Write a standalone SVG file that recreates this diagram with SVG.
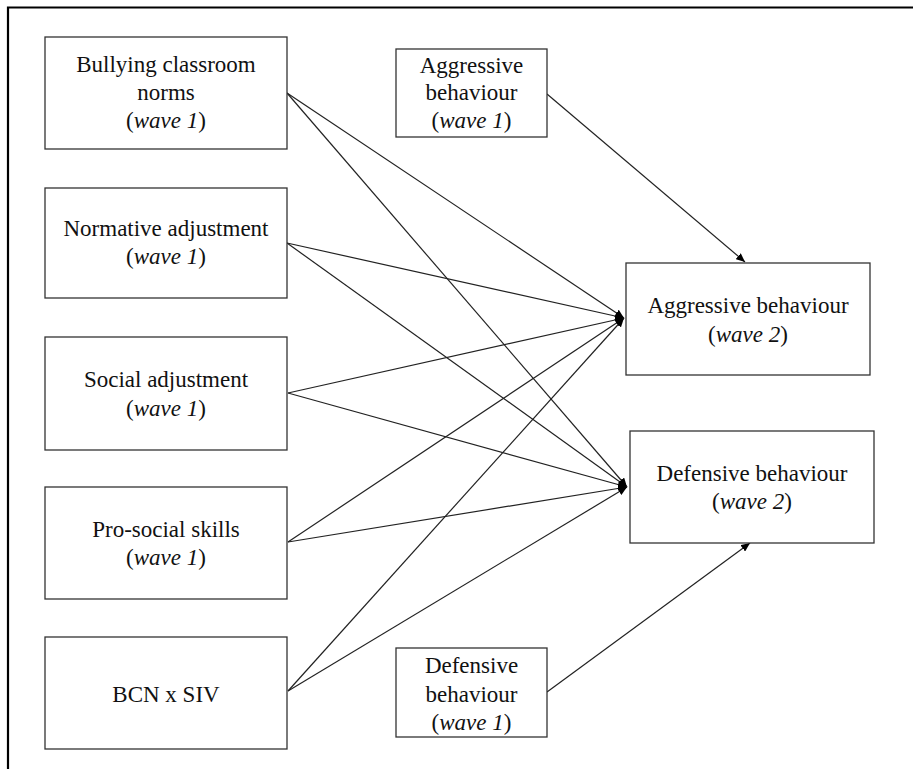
<svg xmlns="http://www.w3.org/2000/svg" width="913" height="769" viewBox="0 0 913 769">
<style>
.box{fill:#fff;stroke:#333;stroke-width:1.3}
.lbl{font-family:"Liberation Serif","Times New Roman",serif;font-size:23px;fill:#111;text-anchor:middle}
.it{font-style:italic}
.edge{stroke:#222;stroke-width:1.2;fill:none;marker-end:url(#ah)}
.frame{stroke:#000;stroke-width:2.2;fill:none}
</style>
<defs>
<marker id="ah" markerUnits="userSpaceOnUse" markerWidth="10" markerHeight="8" refX="9" refY="4" orient="auto">
<path d="M0,0 L9,4 L0,8 Z" fill="#000"/>
</marker>
</defs>
<rect width="913" height="769" fill="#fff"/>
<path class="frame" d="M8,769 L8,7.5 L913,7.5"/>
<g id="connectors">
<line class="edge" x1="287" y1="93" x2="624" y2="318"/>
<line class="edge" x1="287" y1="93" x2="627" y2="487"/>
<line class="edge" x1="287" y1="243" x2="624" y2="318"/>
<line class="edge" x1="287" y1="243" x2="627" y2="487"/>
<line class="edge" x1="288" y1="393" x2="624" y2="318"/>
<line class="edge" x1="288" y1="393" x2="627" y2="487"/>
<line class="edge" x1="288" y1="542" x2="624" y2="318"/>
<line class="edge" x1="288" y1="542" x2="627" y2="487"/>
<line class="edge" x1="288" y1="691" x2="624" y2="318"/>
<line class="edge" x1="288" y1="691" x2="627" y2="487"/>
<line class="edge" x1="547" y1="94" x2="745" y2="262"/>
<line class="edge" x1="547" y1="692" x2="750" y2="543"/>
</g>
<g id="bcn">
<rect class="box" x="45" y="37" width="242" height="112"/>
<text class="lbl" x="166" y="72">Bullying classroom</text>
<text class="lbl" x="166" y="100">norms</text>
<text class="lbl" x="166" y="128">(<tspan class="it">wave 1</tspan>)</text>
</g>
<g id="normative">
<rect class="box" x="45" y="188" width="242" height="110"/>
<text class="lbl" x="166" y="236">Normative adjustment</text>
<text class="lbl" x="166" y="264">(<tspan class="it">wave 1</tspan>)</text>
</g>
<g id="social">
<rect class="box" x="45" y="337" width="242" height="113"/>
<text class="lbl" x="166" y="387">Social adjustment</text>
<text class="lbl" x="166" y="416">(<tspan class="it">wave 1</tspan>)</text>
</g>
<g id="prosocial">
<rect class="box" x="45" y="487" width="242" height="112"/>
<text class="lbl" x="166" y="537">Pro-social skills</text>
<text class="lbl" x="166" y="565">(<tspan class="it">wave 1</tspan>)</text>
</g>
<g id="bcnxsiv">
<rect class="box" x="45" y="637" width="242" height="112"/>
<text class="lbl" x="166" y="702">BCN x SIV</text>
</g>
<g id="aggr1">
<rect class="box" x="396" y="49" width="151" height="88"/>
<text class="lbl" x="471.5" y="73">Aggressive</text>
<text class="lbl" x="471.5" y="100">behaviour</text>
<text class="lbl" x="471.5" y="128">(<tspan class="it">wave 1</tspan>)</text>
</g>
<g id="def1">
<rect class="box" x="396" y="648" width="151" height="89"/>
<text class="lbl" x="471.5" y="673">Defensive</text>
<text class="lbl" x="471.5" y="702">behaviour</text>
<text class="lbl" x="471.5" y="730">(<tspan class="it">wave 1</tspan>)</text>
</g>
<g id="aggr2">
<rect class="box" x="626" y="263" width="244" height="112"/>
<text class="lbl" x="748" y="313">Aggressive behaviour</text>
<text class="lbl" x="748" y="342">(<tspan class="it">wave 2</tspan>)</text>
</g>
<g id="def2">
<rect class="box" x="630" y="431" width="244" height="112"/>
<text class="lbl" x="752" y="481">Defensive behaviour</text>
<text class="lbl" x="752" y="509">(<tspan class="it">wave 2</tspan>)</text>
</g>
</svg>
